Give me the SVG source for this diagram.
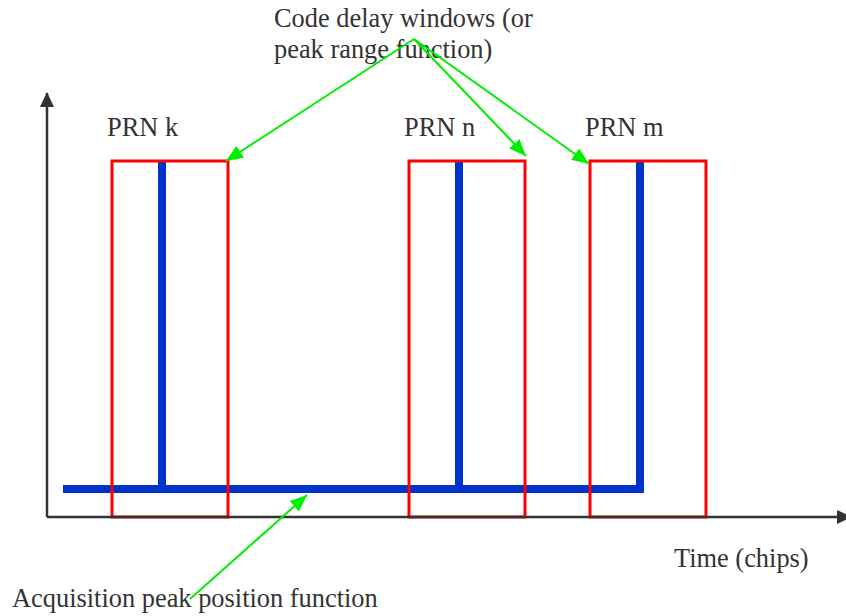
<svg xmlns="http://www.w3.org/2000/svg" width="846" height="616" viewBox="0 0 846 616">
<style>
text{font-family:"Liberation Serif","Times New Roman",serif;font-size:26.4px;fill:#333}
.win{fill:none;stroke:#ff0000;stroke-width:3}
.peak{fill:none;stroke:#0033cc;stroke-width:8;stroke-linejoin:miter}
.axis{fill:none;stroke:#333;stroke-width:2.5}
.ptr{fill:none;stroke:#00ee00;stroke-width:2}
</style>
<defs>
<marker id="ah" markerWidth="16" markerHeight="16" refX="14" refY="8" orient="auto" markerUnits="userSpaceOnUse">
<path d="M0,1 L15,8 L0,15 Z" fill="#333"/>
</marker>
<marker id="gh" markerWidth="18" markerHeight="16" refX="17" refY="7" orient="auto" markerUnits="userSpaceOnUse">
<path d="M0,0 L17,7 L0,14 Z" fill="#00ee00"/>
</marker>
</defs>
<g id="peaks">
<path class="peak" d="M63,489 H640 V161"/>
<line class="peak" x1="162" y1="161" x2="162" y2="489"/>
<line class="peak" x1="459" y1="161" x2="459" y2="489"/>
</g>
<g id="prn-k"><rect class="win" x="112" y="161" width="116" height="356"/><text x="107" y="136">PRN k</text></g>
<g id="prn-n"><rect class="win" x="409" y="161" width="116" height="356"/><text x="404" y="136">PRN n</text></g>
<g id="prn-m"><rect class="win" x="590" y="161" width="116" height="356"/><text x="585" y="136">PRN m</text></g>
<g id="axes">
<line class="axis" x1="47" y1="517" x2="47" y2="93" marker-end="url(#ah)"/>
<line class="axis" x1="47" y1="517" x2="851" y2="517" marker-end="url(#ah)"/>
</g>
<g id="label-windows"><text x="274" y="27">Code delay windows (or</text><text x="274" y="58">peak range function)</text></g>
<g id="label-time"><text x="674" y="567">Time (chips)</text></g>
<g id="label-acq"><text x="12" y="607">Acquisition peak position function</text></g>
<g id="connectors">
<line class="ptr" x1="414" y1="39" x2="226" y2="161" marker-end="url(#gh)"/>
<line class="ptr" x1="414" y1="39" x2="526" y2="156" marker-end="url(#gh)"/>
<line class="ptr" x1="414" y1="39" x2="589" y2="164" marker-end="url(#gh)"/>
<line class="ptr" x1="190" y1="599" x2="307" y2="495" marker-end="url(#gh)"/>
</g>
</svg>
